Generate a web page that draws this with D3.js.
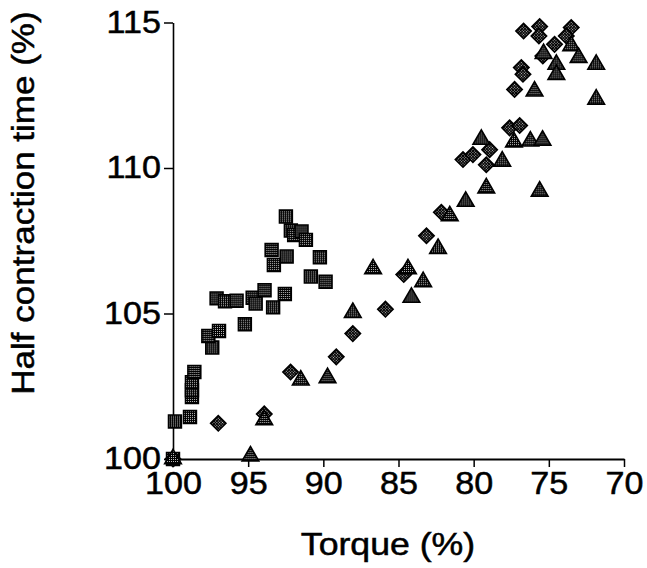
<!DOCTYPE html>
<html>
<head>
<meta charset="utf-8">
<script src="https://cdn.jsdelivr.net/npm/d3@7"></script>
<style>
  body { margin: 0; background: #fff; }
  text { font-family: Arial, "Liberation Sans", Helvetica, sans-serif; fill: #000; stroke: #000; stroke-width: 0.5px; }
</style>
</head>
<body>
<svg width="647" height="568"></svg>
<script>
// [torque %, half contraction time %]
const squares = [
  [100, 100], [99.87, 101.29], [98.87, 101.44], [98.74, 102.13], [98.74, 102.36],
  [98.74, 102.64], [98.58, 102.99], [97.39, 103.83], [97.65, 104.23], [96.94, 104.40],
  [95.22, 104.63], [97.10, 105.52], [96.54, 105.42], [95.77, 105.44], [94.70, 105.54],
  [94.50, 105.34], [93.91, 105.80], [92.56, 105.67], [93.34, 105.21], [93.44, 107.18],
  [92.44, 106.96], [93.29, 106.67], [92.49, 108.33], [92.16, 107.85], [91.94, 107.70],
  [91.45, 107.82], [91.16, 107.53], [90.23, 106.93], [90.83, 106.27], [89.85, 106.09]
];
const diamonds = [
  [100, 100], [96.99, 101.23], [93.93, 101.55], [92.18, 102.99], [89.14, 103.51],
  [88.04, 104.31], [85.87, 105.15], [84.65, 106.34], [83.14, 107.67], [82.15, 108.48],
  [80.71, 110.29], [80.05, 110.46], [78.94, 110.63], [79.16, 110.11], [77.61, 111.38],
  [76.94, 111.46], [77.28, 112.70], [76.83, 113.45], [76.72, 113.22], [76.68, 114.71],
  [75.61, 114.86], [75.66, 114.54], [73.51, 114.83], [73.84, 114.54], [74.62, 114.25],
  [75.40, 113.85]
];
const triangles = [
  [100, 100], [94.85, 100.1], [93.93, 101.34], [91.50, 102.71], [89.72, 102.79],
  [88.04, 105.03], [86.69, 106.53], [84.37, 106.53], [84.14, 105.55], [83.36, 106.09],
  [82.37, 107.23], [81.59, 108.35], [80.53, 108.85], [79.16, 109.31], [79.49, 110.98],
  [78.10, 110.23], [77.32, 110.89], [76.23, 110.92], [75.42, 110.95], [75.61, 109.20],
  [75.95, 112.64], [74.50, 113.56], [74.50, 113.21], [75.35, 113.93], [73.51, 114.20],
  [73.02, 113.79], [71.85, 113.56], [71.85, 112.36]
];
const xTicks = [100, 95, 90, 85, 80, 75, 70];
const yTicks = [100, 105, 110, 115];

const svg = d3.select("svg");

// stippled fill like the printed markers
const pat = svg.append("defs").append("pattern")
  .attr("id", "dots")
  .attr("patternUnits", "userSpaceOnUse")
  .attr("width", 2).attr("height", 2);
pat.append("rect").attr("width", 2).attr("height", 2).attr("fill", "#000");
pat.append("rect").attr("width", 1).attr("height", 1).attr("fill", "#bbb");

const x = d3.scaleLinear().domain([100, 70]).range([173, 624]);
const y = d3.scaleLinear().domain([100, 115]).range([459, 22.5]);

// X axis
const gx = svg.append("g")
  .attr("transform", "translate(0,459)")
  .call(d3.axisBottom(x).tickValues(xTicks).tickSize(8).tickSizeOuter(0).tickPadding(5));
gx.select(".domain").attr("stroke-width", 2);
gx.selectAll(".tick line").attr("stroke-width", 1.5);
gx.selectAll(".tick text")
  .attr("font-size", 31)
  .attr("font-family", "Arial, 'Liberation Sans', sans-serif")
  .attr("transform", "scale(1.1,1)");

// Y axis
const gy = svg.append("g")
  .attr("transform", "translate(173,0)")
  .call(d3.axisLeft(y).tickValues(yTicks).tickSize(9).tickSizeOuter(0).tickPadding(2));
gy.select(".domain").attr("stroke-width", 1.6);
gy.selectAll(".tick line").attr("stroke-width", 1.5);
gy.selectAll(".tick text")
  .attr("font-size", 31)
  .attr("font-family", "Arial, 'Liberation Sans', sans-serif")
  .attr("transform", "scale(1.1,1)");

// Axis labels
svg.append("text")
  .attr("text-anchor", "middle")
  .attr("transform", "translate(388,555) scale(1.15,1)")
  .attr("font-size", 31)
  .text("Torque (%)");

svg.append("text")
  .attr("text-anchor", "middle")
  .attr("transform", "translate(34,203) rotate(-90) scale(1.13,1)")
  .attr("font-size", 31)
  .text("Half contraction time (%)");

// Markers
function drawSeries(data, symbol, size, rotate) {
  const path = d3.symbol().type(symbol).size(size)();
  svg.append("g").selectAll("path")
    .data(data)
    .enter()
    .append("path")
    .attr("d", path)
    .attr("transform", d => `translate(${x(d[0])},${y(d[1])}) rotate(${rotate})`)
    .attr("fill", "url(#dots)")
    .attr("stroke", "#000")
    .attr("stroke-width", 1.6);
}

drawSeries(squares, d3.symbolSquare, 165, 0);
drawSeries(diamonds, d3.symbolSquare, 118, 45);
drawSeries(triangles, d3.symbolTriangle, 120, 0);
</script>
</body>
</html>
